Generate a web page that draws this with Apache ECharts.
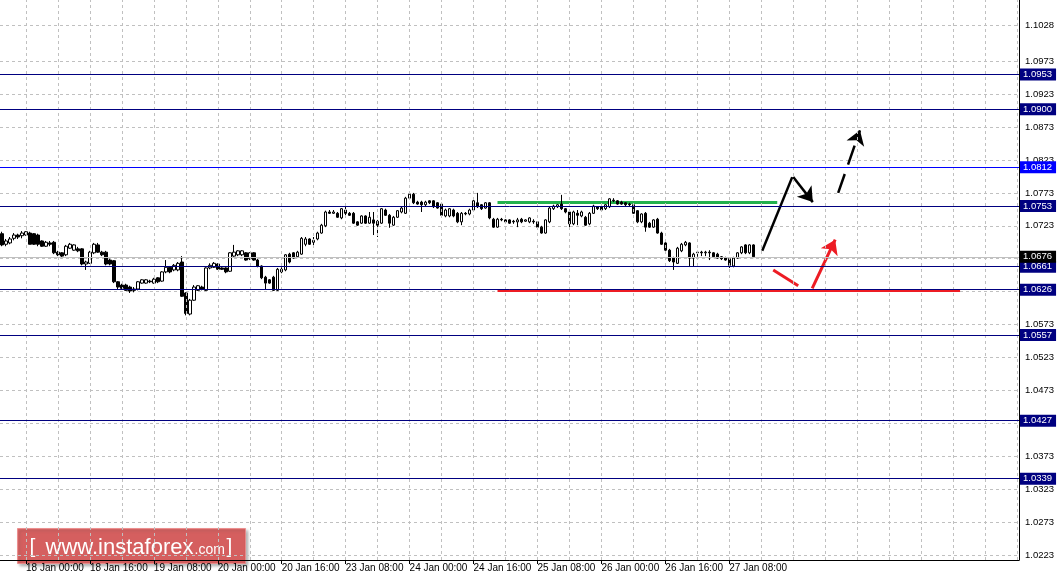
<!DOCTYPE html>
<html><head><meta charset="utf-8">
<script src="https://cdn.jsdelivr.net/npm/echarts@6/dist/echarts.min.js"></script>
<style>html,body{margin:0;padding:0;background:#fff}#c{width:1060px;height:580px}</style>
</head><body><div id="c"></div>
<script>
// EURUSD H1 candles, first bar = 17 Jan 18:00
const openP = [
1.0711,1.0695,1.0697,1.0704,1.0709,1.0708,1.0709,1.0712,1.0711,1.0709,
1.0700,1.0692,1.0697,1.0698,1.0683,1.0682,1.0679,1.0689,1.0686,1.0688,
1.0688,1.0665,1.0666,1.0682,1.0694,1.0683,1.0683,1.0671,1.0670,1.0638,
1.0633,1.0633,1.0630,1.0627,1.0627,1.0636,1.0636,1.0639,1.0636,1.0644,
1.0639,1.0653,1.0660,1.0656,1.0656,1.0668,1.0621,1.0589,1.0610,1.0625,
1.0630,1.0625,1.0659,1.0660,1.0665,1.0659,1.0659,1.0654,1.0677,1.0679,
1.0679,1.0682,1.0673,1.0682,1.0671,1.0662,1.0645,1.0641,1.0645,1.0625,
1.0657,1.0656,1.0680,1.0682,1.0676,1.0680,1.0695,1.0703,1.0698,1.0703,
1.0712,1.0723,1.0744,1.0742,1.0742,1.0735,1.0747,1.0742,1.0742,1.0729,
1.0727,1.0738,1.0727,1.0732,1.0730,1.0727,1.0747,1.0739,1.0724,1.0736,
1.0744,1.0742,1.0765,1.0771,1.0759,1.0759,1.0755,1.0761,1.0761,1.0758,
1.0756,1.0738,1.0738,1.0747,1.0742,1.0729,1.0742,1.0741,1.0747,1.0758,
1.0755,1.0750,1.0758,1.0733,1.0721,1.0733,1.0732,1.0732,1.0730,1.0729,
1.0733,1.0730,1.0729,1.0730,1.0729,1.0721,1.0712,1.0729,1.0749,1.0752,
1.0756,1.0749,1.0744,1.0726,1.0742,1.0738,1.0736,1.0726,1.0742,1.0752,
1.0752,1.0749,1.0752,1.0762,1.0761,1.0759,1.0758,1.0756,1.0755,1.0746,
1.0729,1.0742,1.0727,1.0721,1.0733,1.0712,1.0697,1.0686,1.0674,1.0666,
1.0685,1.0694,1.0697,1.0674,1.0682,1.0683,1.0682,1.0683,1.0682,1.0680,
1.0676,1.0674,1.0673,1.0662,1.0674,1.0682,1.0694,1.0682,1.0694];
const closeP = [
1.0694,1.0700,1.0703,1.0709,1.0706,1.0712,1.0714,1.0695,1.0695,1.0695,
1.0692,1.0698,1.0695,1.0682,1.0679,1.0677,1.0692,1.0695,1.0694,1.0685,
1.0665,1.0668,1.0683,1.0695,1.0683,1.0679,1.0665,1.0665,1.0638,1.0630,
1.0628,1.0625,1.0624,1.0625,1.0638,1.0641,1.0641,1.0638,1.0642,1.0638,
1.0653,1.0660,1.0653,1.0663,1.0666,1.0616,1.0590,1.0610,1.0630,1.0632,
1.0627,1.0659,1.0663,1.0666,1.0657,1.0657,1.0653,1.0682,1.0683,1.0685,
1.0685,1.0671,1.0682,1.0671,1.0662,1.0644,1.0636,1.0636,1.0625,1.0657,
1.0653,1.0679,1.0668,1.0674,1.0683,1.0704,1.0703,1.0695,1.0701,1.0712,
1.0724,1.0744,1.0742,1.0744,1.0736,1.0749,1.0742,1.0739,1.0727,1.0724,
1.0738,1.0727,1.0736,1.0727,1.0724,1.0749,1.0739,1.0727,1.0736,1.0746,
1.0750,1.0765,1.0771,1.0758,1.0756,1.0755,1.0759,1.0758,1.0752,1.0750,
1.0739,1.0747,1.0749,1.0738,1.0729,1.0742,1.0741,1.0747,1.0761,1.0752,
1.0749,1.0758,1.0735,1.0721,1.0733,1.0732,1.0729,1.0727,1.0729,1.0732,
1.0729,1.0732,1.0735,1.0729,1.0721,1.0712,1.0732,1.0750,1.0753,1.0755,
1.0749,1.0744,1.0726,1.0744,1.0739,1.0744,1.0724,1.0742,1.0753,1.0749,
1.0747,1.0755,1.0764,1.0761,1.0756,1.0756,1.0755,1.0755,1.0742,1.0729,
1.0741,1.0721,1.0721,1.0732,1.0712,1.0695,1.0686,1.0670,1.0668,1.0689,
1.0695,1.0698,1.0674,1.0680,1.0683,1.0682,1.0683,1.0682,1.0676,1.0674,
1.0673,1.0671,1.0663,1.0674,1.0682,1.0691,1.0682,1.0694,1.0676];
const lowP = [
1.0692,1.0692,1.0695,1.0701,1.0703,1.0704,1.0708,1.0695,1.0694,1.0692,
1.0691,1.0691,1.0692,1.0680,1.0677,1.0674,1.0677,1.0688,1.0685,1.0683,
1.0663,1.0656,1.0665,1.0680,1.0682,1.0677,1.0663,1.0663,1.0636,1.0627,
1.0627,1.0624,1.0621,1.0622,1.0625,1.0635,1.0635,1.0636,1.0635,1.0636,
1.0638,1.0651,1.0651,1.0654,1.0654,1.0615,1.0587,1.0587,1.0609,1.0624,
1.0625,1.0624,1.0657,1.0659,1.0656,1.0656,1.0651,1.0653,1.0676,1.0677,
1.0677,1.0670,1.0671,1.0670,1.0660,1.0642,1.0627,1.0635,1.0624,1.0624,
1.0651,1.0654,1.0666,1.0673,1.0674,1.0679,1.0692,1.0694,1.0692,1.0701,
1.0711,1.0721,1.0741,1.0741,1.0735,1.0733,1.0736,1.0738,1.0726,1.0723,
1.0726,1.0726,1.0726,1.0709,1.0706,1.0726,1.0738,1.0720,1.0723,1.0735,
1.0742,1.0741,1.0764,1.0756,1.0755,1.0744,1.0753,1.0756,1.0750,1.0749,
1.0738,1.0736,1.0736,1.0736,1.0727,1.0724,1.0739,1.0739,1.0746,1.0750,
1.0747,1.0749,1.0733,1.0720,1.0720,1.0730,1.0727,1.0726,1.0726,1.0721,
1.0727,1.0729,1.0727,1.0726,1.0720,1.0711,1.0711,1.0727,1.0747,1.0750,
1.0747,1.0742,1.0720,1.0724,1.0724,1.0736,1.0723,1.0724,1.0741,1.0747,
1.0746,1.0747,1.0750,1.0759,1.0755,1.0755,1.0753,1.0753,1.0741,1.0727,
1.0727,1.0714,1.0720,1.0720,1.0711,1.0694,1.0685,1.0668,1.0656,1.0665,
1.0683,1.0692,1.0662,1.0662,1.0676,1.0677,1.0677,1.0671,1.0674,1.0673,
1.0671,1.0670,1.0659,1.0660,1.0673,1.0680,1.0680,1.0680,1.0674];
const highP = [
1.0714,1.0703,1.0706,1.0712,1.0711,1.0715,1.0715,1.0714,1.0712,1.0711,
1.0701,1.0700,1.0700,1.0700,1.0685,1.0683,1.0694,1.0697,1.0695,1.0691,
1.0689,1.0670,1.0685,1.0697,1.0697,1.0685,1.0685,1.0673,1.0671,1.0639,
1.0635,1.0635,1.0632,1.0630,1.0639,1.0642,1.0642,1.0641,1.0644,1.0645,
1.0654,1.0671,1.0662,1.0665,1.0668,1.0677,1.0622,1.0612,1.0633,1.0633,
1.0632,1.0660,1.0666,1.0668,1.0666,1.0660,1.0660,1.0683,1.0694,1.0686,
1.0686,1.0683,1.0683,1.0683,1.0673,1.0663,1.0647,1.0642,1.0647,1.0659,
1.0660,1.0680,1.0682,1.0683,1.0685,1.0706,1.0706,1.0704,1.0706,1.0714,
1.0726,1.0746,1.0747,1.0747,1.0744,1.0750,1.0753,1.0744,1.0744,1.0730,
1.0739,1.0739,1.0744,1.0744,1.0732,1.0750,1.0749,1.0741,1.0738,1.0747,
1.0752,1.0767,1.0773,1.0773,1.0761,1.0761,1.0761,1.0762,1.0762,1.0759,
1.0758,1.0749,1.0750,1.0749,1.0744,1.0744,1.0744,1.0749,1.0765,1.0773,
1.0756,1.0759,1.0759,1.0735,1.0735,1.0735,1.0733,1.0733,1.0732,1.0735,
1.0735,1.0733,1.0736,1.0733,1.0730,1.0723,1.0733,1.0752,1.0755,1.0756,
1.0770,1.0750,1.0746,1.0746,1.0747,1.0746,1.0738,1.0744,1.0755,1.0753,
1.0753,1.0756,1.0765,1.0765,1.0762,1.0761,1.0759,1.0758,1.0756,1.0747,
1.0742,1.0744,1.0729,1.0733,1.0735,1.0714,1.0698,1.0688,1.0676,1.0691,
1.0697,1.0700,1.0698,1.0682,1.0685,1.0685,1.0685,1.0686,1.0683,1.0682,
1.0677,1.0676,1.0674,1.0676,1.0683,1.0692,1.0695,1.0695,1.0695];

const priceTicks = [1.0223,1.0273,1.0323,1.0373,1.0423,1.0473,1.0523,1.0573,1.0623,1.0673,1.0723,1.0773,1.0823,1.0873,1.0923,1.0973,1.1028];
const levels = [1.0953,1.0900,1.0812,1.0753,1.0661,1.0626,1.0557,1.0427,1.0339];
const brightLevel = 1.0812;
const lastPrice = 1.0676;

// analyst drawings: [bar index, price]
const greenLine = [[124,1.0759],[194,1.0759]];
const redLine = [[124,1.0625],[239.75,1.0625]];
const redDown = [[193,1.0656],[199.25,1.0632]];
const redUp = [[202.75,1.0628],[208.5,1.0702]];
const blackUp = [[190.25,1.0685],[197.75,1.0797]];
const blackDown = [[198,1.0797],[202.9,1.0759]];
const blackDashed = [[209.25,1.0773],[214.7,1.0868]];

const SLOTS = 255;
const months = ['Jan','Feb','Mar'];
const categories = [];
let t = Date.UTC(2017,0,17,18);
while (categories.length < SLOTS) {
  const d = new Date(t);
  const wd = d.getUTCDay();
  if (wd !== 0 && wd !== 6) {
    const h = d.getUTCHours();
    categories.push(d.getUTCDate() + ' ' + months[d.getUTCMonth()] + ' ' + (h < 10 ? '0' + h : h) + ':00');
  }
  t += 3600000;
}
const nBars = openP.length;
const showLabel = (i) => i % 16 === 6 && i < nBars;
const gridIdx = [];
for (let i = 6; i < SLOTS; i += 8) gridIdx.push(i);

const candles = openP.map((o, i) => [o, closeP[i], lowP[i], highP[i]]);
const FONT = "'Liberation Sans', Arial, sans-serif";

const levelData = levels.map(v => {
  const c = v === brightLevel ? '#0000ff' : '#000080';
  return {yAxis: v, lineStyle: {color: c, width: 1, type: 'solid'},
          label: {backgroundColor: c}};
});
levelData.push({yAxis: lastPrice, lineStyle: {color: '#c0c0c0', width: 1, type: 'solid'},
  label: {backgroundColor: '#000000'}});

const gridStyle = {color: '#c0c0c0', type: [3, 3], width: 1, opacity: 1};

const chart = echarts.init(document.getElementById('c'), null, {renderer: 'canvas', width: 1060, height: 580});
chart.setOption({
  animation: false,
  backgroundColor: '#ffffff',
  grid: {left: -1, right: 41, top: 0, bottom: 20, containLabel: false},
  xAxis: [{
    type: 'category', data: categories, boundaryGap: true,
    axisLine: {show: true, onZero: false, lineStyle: {color: '#000', width: 1}},
    axisTick: {show: true, alignWithLabel: true, interval: showLabel, length: 4, lineStyle: {color: '#000'}},
    axisLabel: {show: true, interval: showLabel, align: 'left', margin: 3, color: '#000',
      fontSize: 10, fontFamily: "'Liberation Sans Narrow', 'Liberation Sans', sans-serif"},
    splitLine: {show: false}
  }, {
    type: 'value', min: -0.5, max: SLOTS - 0.5, show: false
  }],
  yAxis: [{
    type: 'value', position: 'right', min: 1.02154, max: 1.1066,
    axisLine: {show: true, onZero: false, lineStyle: {color: '#000', width: 1}},
    axisTick: {show: false},
    axisLabel: {show: true, customValues: priceTicks, margin: 6, color: '#000', fontSize: 9.5,
      fontFamily: FONT, formatter: v => v.toFixed(4)},
    splitLine: {show: false}
  }],
  series: [
    {
      type: 'lines', coordinateSystem: 'cartesian2d', xAxisIndex: 1, yAxisIndex: 0, z: 1, silent: true,
      symbol: ['none', 'none'], lineStyle: gridStyle,
      data: priceTicks.map(v => ({coords: [[-0.5, v], [SLOTS - 0.5, v]]}))
    },
    {
      type: 'line', data: [], z: 1, silent: true,
      markLine: {silent: true, symbol: ['none', 'none'], animation: false, precision: 4,
        label: {show: false}, lineStyle: gridStyle,
        data: gridIdx.map(i => ({xAxis: i}))}
    },
    {
      type: 'line', data: [], z: 1, silent: true,
      markLine: {silent: true, symbol: ['none', 'none'], animation: false, precision: 4,
        label: {show: true, position: 'end', distance: 1, color: '#fff', fontSize: 9.5, fontFamily: FONT,
          padding: [1, 4, 0, 3], lineHeight: 11, formatter: p => Number(p.value).toFixed(4)},
        data: levelData}
    },
    {
      type: 'lines', coordinateSystem: 'cartesian2d', xAxisIndex: 1, yAxisIndex: 0, z: 1, silent: true,
      symbol: ['none', 'none'],
      data: [
        {coords: greenLine, lineStyle: {color: '#22b14c', width: 3, opacity: 1}},
        {coords: redLine, lineStyle: {color: '#ed1c24', width: 3, opacity: 1}},
        {coords: redDown, lineStyle: {color: '#ed1c24', width: 3, opacity: 1}},
        {coords: blackUp, lineStyle: {color: '#000', width: 2.5, opacity: 1}}
      ]
    },
    {
      type: 'candlestick', data: candles, xAxisIndex: 0, yAxisIndex: 0, z: 2, barWidth: 3, silent: true,
      itemStyle: {color: '#ffffff', color0: '#000000', borderColor: '#000000', borderColor0: '#000000', borderWidth: 1}
    },
    {
      type: 'lines', coordinateSystem: 'cartesian2d', xAxisIndex: 1, yAxisIndex: 0, z: 3, silent: true,
      symbol: ['none', 'arrow'], symbolSize: 14,
      data: [
        {coords: blackDown, lineStyle: {color: '#000', width: 2.5, opacity: 1}},
        {coords: redUp, lineStyle: {color: '#ed1c24', width: 3, opacity: 1}},
        {coords: blackDashed, lineStyle: {color: '#000', width: 2.5, type: [20, 10], opacity: 1}}
      ]
    }
  ],
  graphic: [{
    type: 'group', left: 17, top: 528, z: 100,
    children: [
      {type: 'rect', shape: {x: 0, y: 0, width: 228, height: 35},
        style: {fill: 'rgba(218,80,80,0.85)', stroke: 'rgba(235,140,140,0.9)', lineWidth: 1,
          shadowBlur: 3, shadowColor: 'rgba(0,0,0,0.35)', shadowOffsetX: 2, shadowOffsetY: 2}},
      {type: 'text', x: 12, y: 19, style: {text: '[', fill: '#fff', font: "21px 'Liberation Sans', Arial, sans-serif", verticalAlign: 'middle'}},
      {type: 'text', x: 28, y: 19, style: {text: 'www.instaforex', fill: '#fff', font: "22px 'Liberation Sans', Arial, sans-serif", verticalAlign: 'middle'}},
      {type: 'text', x: 177, y: 22, style: {text: '.com', fill: '#fff', font: "14px 'Liberation Sans', Arial, sans-serif", verticalAlign: 'middle'}},
      {type: 'text', x: 209, y: 19, style: {text: ']', fill: '#fff', font: "21px 'Liberation Sans', Arial, sans-serif", verticalAlign: 'middle'}}
    ]
  }]
});
</script>
</body></html>
